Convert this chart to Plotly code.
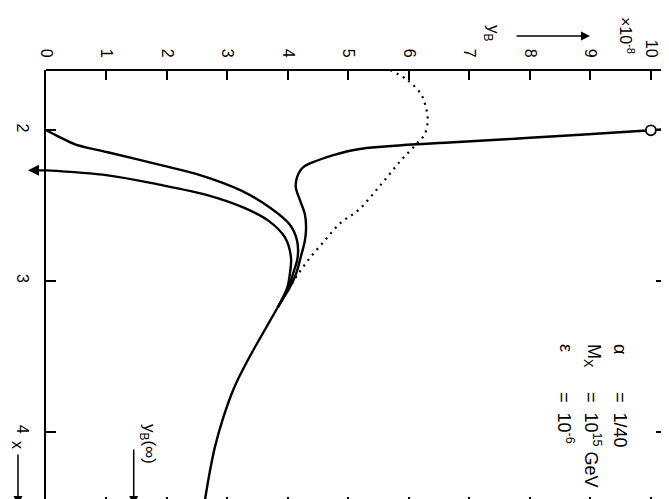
import plotly.graph_objects as go

# ---- data (x = vertical variable, yB = horizontal, units of 1e-8) ----
main_yb = [10.25, 10.0, 8.0, 6.6, 6.12, 5.6, 5.16, 4.75, 4.50, 4.25, 4.15, 4.13, 4.20, 4.28, 4.30, 4.28, 4.21, 4.13,
           4.03, 3.83, 3.64, 3.36, 3.11, 2.93, 2.79, 2.69, 2.61]
main_x = [1.993, 2.0, 2.05, 2.083, 2.093, 2.108, 2.126, 2.165, 2.199, 2.246, 2.312, 2.379, 2.465, 2.558, 2.645, 2.731,
          2.844, 2.957, 3.043, 3.176, 3.309, 3.508, 3.708, 3.907, 4.106, 4.306, 4.50]

upper_yb = [0.0, 0.2, 0.48, 1.02, 1.85, 2.56, 3.22, 3.70, 4.03, 4.15, 4.16, 4.08, 4.01, 3.83]
upper_x = [2.0, 2.04, 2.093, 2.146, 2.226, 2.299, 2.399, 2.512, 2.625, 2.731, 2.844, 2.957, 3.043, 3.176]

lower_yb = [0.0, 1.02, 1.85, 2.68, 3.26, 3.67, 3.95, 4.05, 4.03, 3.99, 3.83]
lower_x = [2.266, 2.299, 2.359, 2.432, 2.512, 2.598, 2.711, 2.844, 2.957, 3.043, 3.176]

dot_yb = [5.69, 5.98, 6.20, 6.28, 6.31, 6.26, 6.12, 5.87, 5.54, 5.16, 4.88, 4.61, 4.33, 4.13, 4.03, 3.83]
dot_x = [1.6, 1.668, 1.761, 1.847, 1.934, 2.027, 2.093, 2.199, 2.359, 2.532, 2.611, 2.731, 2.864, 2.977, 3.043, 3.176]

start_point_yb = [10.0]
start_point_x = [2.0]
yb_inf = 1.45

yb_ticks = list(range(0, 11))
x_ticks = [2, 3, 4]

X_RANGE = [4.5, 1.6]
YB_RANGE = [0, 10.25]

FONT = "Liberation Sans, Arial, sans-serif"

fig = go.Figure()
solid = dict(color="black", width=2.4, shape="spline", smoothing=1.0)
fig.add_trace(go.Scatter(x=main_yb, y=main_x, mode="lines", line=solid, hoverinfo="skip"))
fig.add_trace(go.Scatter(x=upper_yb, y=upper_x, mode="lines", line=solid, hoverinfo="skip"))
fig.add_trace(go.Scatter(x=lower_yb, y=lower_x, mode="lines", line=solid, hoverinfo="skip"))
fig.add_trace(go.Scatter(x=dot_yb, y=dot_x, mode="lines",
                         line=dict(color="black", width=2.2, dash="2px,5px", shape="spline", smoothing=1.0),
                         hoverinfo="skip"))
fig.add_trace(go.Scatter(x=start_point_yb, y=start_point_x, mode="markers",
                         marker=dict(symbol="circle", size=10, color="white", line=dict(color="black", width=1.8)),
                         hoverinfo="skip"))


def py_paper(xv):
    return (X_RANGE[0] - xv) / (X_RANGE[0] - X_RANGE[1])


def px2paper_x(px):
    return (px - 38) / 620.0


def py2paper_y(py):
    return (499 - py) / 437.0


def label(text, px, py, size=17, yanchor="middle"):
    return dict(text=text, xref="paper", yref="paper", x=px2paper_x(px), y=py2paper_y(py),
                xanchor="center", yanchor=yanchor, showarrow=False, textangle=90,
                font=dict(size=size, color="black", family=FONT))


def arrow(hx, hy, ax, ay, width=1.5, size=1.2):
    return dict(text="", xref="paper", yref="paper", x=px2paper_x(hx), y=py2paper_y(hy), ax=ax, ay=ay,
                showarrow=True, arrowhead=2, arrowsize=size, arrowwidth=width, arrowcolor="black")


ann = []
ann.append(label("×10<sup>-8</sup>", 619, 27, 16))
ann.append(label("y<sub>B</sub>", 484, 25, 17))
ann.append(arrow(582, 28, -75, 0))
ann.append(label("x", 10, 437, 16))
ann.append(arrow(10, 497, 0, -52))
ann.append(label("y<sub>B</sub>(∞)", 140, 436, 17))
ann.append(dict(text="", xref="paper", yref="paper", x=yb_inf / YB_RANGE[1], y=py2paper_y(497), ax=0, ay=-57,
                showarrow=True, arrowhead=2, arrowsize=1.2, arrowwidth=1.5, arrowcolor="black"))
# arrowhead at left end of lower curve
ann.append(dict(text="", xref="paper", yref="paper", x=px2paper_x(20), y=py_paper(lower_x[0]), ax=18, ay=0,
                showarrow=True, arrowhead=2, arrowsize=1.0, arrowwidth=2.2, arrowcolor="black"))

# parameter block (rotated; top-anchored so the '=' signs line up)
for xc, sym, val in [(612, "α", "=  1/40"),
                     (585, "M<sub>X</sub>", "=  10<sup>15</sup> GeV"),
                     (558, "ε", "=  10<sup>-6</sup>")]:
    ann.append(label(sym, xc, 334, 18, yanchor="top"))
    ann.append(label(val, xc, 382, 18, yanchor="top"))

fig.update_layout(
    width=669, height=499,
    margin=dict(l=38, r=11, t=62, b=0),
    paper_bgcolor="white", plot_bgcolor="white",
    showlegend=False,
    font=dict(family=FONT, color="black", size=16),
    annotations=ann,
    shapes=[dict(type="line", xref="paper", yref="paper", x0=0, x1=1, y0=1, y1=1,
                 line=dict(color="black", width=1.8))],
    xaxis=dict(range=YB_RANGE, side="top", tickvals=yb_ticks, ticktext=[str(v) for v in yb_ticks],
               ticks="inside", ticklen=10, tickwidth=1.5, tickcolor="black",
               showline=False, mirror="ticks", showgrid=False, zeroline=False,
               tickangle=90, tickfont=dict(size=16, family=FONT), ticklabelstandoff=9),
    yaxis=dict(range=X_RANGE, tickvals=x_ticks, ticktext=[str(v) for v in x_ticks],
               ticks="inside", ticklen=10, tickwidth=1.5, tickcolor="black",
               showline=True, linewidth=1.8, linecolor="black", mirror="ticks",
               showgrid=False, zeroline=False,
               tickangle=90, tickfont=dict(size=16, family=FONT), ticklabelstandoff=8),
)

fig.write_html("out.html")
